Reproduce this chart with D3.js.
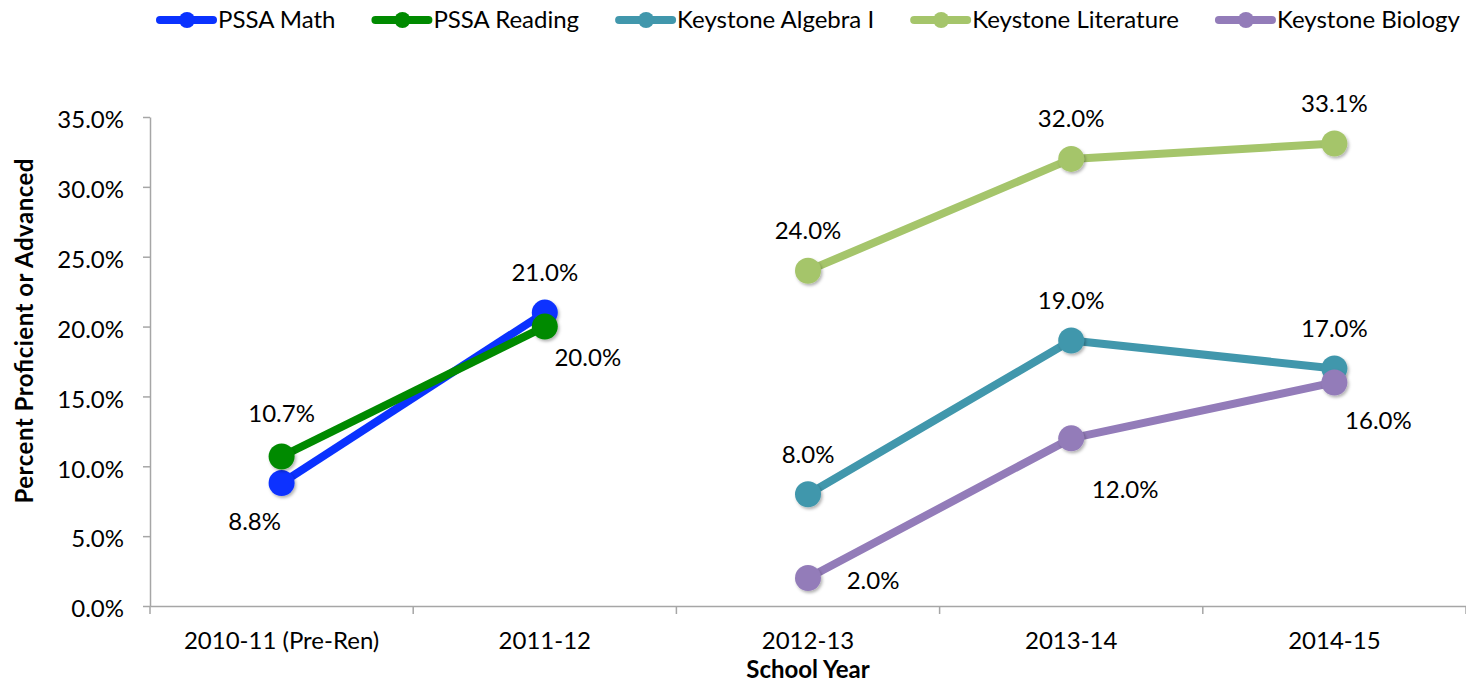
<!DOCTYPE html>
<html>
<head>
<meta charset="utf-8">
<script src="https://cdn.jsdelivr.net/npm/d3@7"></script>
<style>
  body { margin: 0; background: #fff; }
  svg { font-family: Lato, "Open Sans", sans-serif; }
</style>
</head>
<body>
<div id="chart"></div>
<script>
// categories and series
var years = ["2010-11 (Pre-Ren)", "2011-12", "2012-13", "2013-14", "2014-15"];
var seriesNames = ["PSSA Math", "PSSA Reading", "Keystone Algebra I", "Keystone Literature", "Keystone Biology"];
var pssaMath = [8.8, 21.0, null, null, null];
var pssaReading = [10.7, 20.0, null, null, null];
var algebra = [null, null, 8.0, 19.0, 17.0];
var literature = [null, null, 24.0, 32.0, 33.1];
var biology = [null, null, 2.0, 12.0, 16.0];
var yTicks = [0, 5, 10, 15, 20, 25, 30, 35];

var colors = ["#0a32ff", "#008a00", "#4197ac", "#a5c56b", "#937cb9"];
// where each value label sits relative to its point
var labelPos = [
  ["bl", "t", null, null, null],
  ["tl", "br", null, null, null],
  [null, null, "t", "t", "t"],
  [null, null, "t", "t", "t"],
  [null, null, "r", "br2", "br3"]
];

var allSeries = [pssaMath, pssaReading, algebra, literature, biology];

var W = 1466, H = 685;
var margin = {top: 117, right: 0, bottom: 79, left: 150};
var width = W - margin.left - margin.right,
    height = H - margin.top - margin.bottom;

var svg = d3.select("#chart").append("svg")
    .attr("width", W).attr("height", H);

// soft marker shadow
var f = svg.append("defs").append("filter").attr("id", "sh")
    .attr("x", "-50%").attr("y", "-50%").attr("width", "200%").attr("height", "200%");
f.append("feDropShadow").attr("dx", 1.5).attr("dy", 2).attr("stdDeviation", 1.5)
    .attr("flood-color", "#000").attr("flood-opacity", 0.3);

var g = svg.append("g")
    .attr("transform", "translate(" + margin.left + "," + margin.top + ")");

var x = d3.scaleBand().domain(years).range([0, width]);
var y = d3.scaleLinear().domain([0, 35]).range([height, 0]);

// y axis
var yAxis = g.append("g")
    .call(d3.axisLeft(y).tickValues(yTicks).tickFormat(function(d) { return d.toFixed(1) + "%"; }).tickSize(7).tickSizeOuter(0));
yAxis.select(".domain").attr("stroke", "#a6a6a6").attr("stroke-width", 1.5);
yAxis.selectAll(".tick line").attr("stroke", "#a6a6a6").attr("stroke-width", 1.5);
yAxis.selectAll(".tick text").attr("font-size", 24).attr("fill", "#000").attr("x", -26).attr("dy", "0.45em")
    .attr("font-family", "Lato, sans-serif");

// x axis with ticks between categories
var xAxis = g.append("g").attr("transform", "translate(0," + height + ")")
    .call(d3.axisBottom(x).tickSize(0).tickSizeOuter(0));
xAxis.select(".domain").attr("stroke", "#a6a6a6").attr("stroke-width", 1.5);
xAxis.selectAll(".tick text").attr("font-size", 24).attr("fill", "#000")
    .attr("font-family", "Lato, sans-serif").attr("y", 35).attr("dy", "0.35em");
var bounds = years.map(function(d) { return x(d); }).concat([width]);
xAxis.selectAll(".sep").data(bounds).enter().append("line")
    .attr("x1", function(d) { return d; }).attr("x2", function(d) { return d; })
    .attr("y1", 0).attr("y2", 8)
    .attr("stroke", "#a6a6a6").attr("stroke-width", 1.5);

// axis titles
svg.append("text")
    .attr("x", margin.left + width / 2).attr("y", 678)
    .attr("text-anchor", "middle").attr("font-size", 24).attr("font-weight", "bold")
    .text("School Year");
svg.append("text")
    .attr("transform", "translate(33,331) rotate(-90)")
    .attr("text-anchor", "middle").attr("font-size", 24).attr("font-weight", "bold")
    .attr("textLength", 345).attr("lengthAdjust", "spacing")
    .text("Percent Proficient or Advanced");

var cx = function(i) { return x(years[i]) + x.bandwidth() / 2; };

var line = d3.line()
    .defined(function(d) { return d != null; })
    .x(function(d, i) { return cx(i); })
    .y(function(d) { return y(d); });

allSeries.forEach(function(vals, s) {
  g.append("path").datum(vals)
      .attr("fill", "none").attr("stroke", colors[s]).attr("stroke-width", 8)
      .attr("stroke-linejoin", "round")
      .attr("d", line);
  var pts = vals.map(function(v, i) { return {v: v, i: i}; }).filter(function(p) { return p.v != null; });
  g.selectAll(".pt" + s).data(pts).enter().append("circle")
      .attr("cx", function(p) { return cx(p.i); })
      .attr("cy", function(p) { return y(p.v); })
      .attr("r", 13).attr("fill", colors[s]).attr("filter", "url(#sh)");
});

// value labels
var offs = {
  t: [0, -40], bl: [-27, 39], tl: [0, -43], br: [43, 31], br2: [54, 51], br3: [44, 38], r: [65, 3]
};
allSeries.forEach(function(vals, s) {
  vals.forEach(function(v, i) {
    if (v == null) return;
    var o = offs[labelPos[s][i]];
    g.append("text")
        .attr("x", cx(i) + o[0]).attr("y", y(v) + o[1])
        .attr("dy", "0.35em")
        .attr("text-anchor", "middle").attr("font-size", 24)
        .text(v.toFixed(1) + "%");
  });
});

// legend
var lg = svg.append("g").attr("transform", "translate(157,20)");
var lx = 0;
seriesNames.forEach(function(name, s) {
  var it = lg.append("g").attr("transform", "translate(" + lx + ",0)");
  it.append("line").attr("x1", 3).attr("x2", 56).attr("y1", 0).attr("y2", 0)
      .attr("stroke", colors[s]).attr("stroke-width", 8).attr("stroke-linecap", "round");
  it.append("circle").attr("cx", 30).attr("cy", 0).attr("r", 8).attr("fill", colors[s]);
  var t = it.append("text").attr("x", 61).attr("dy", "0.35em").attr("font-size", 24).text(name);
  lx += 61 + t.node().getComputedTextLength() + 37;
});
</script>
</body>
</html>
